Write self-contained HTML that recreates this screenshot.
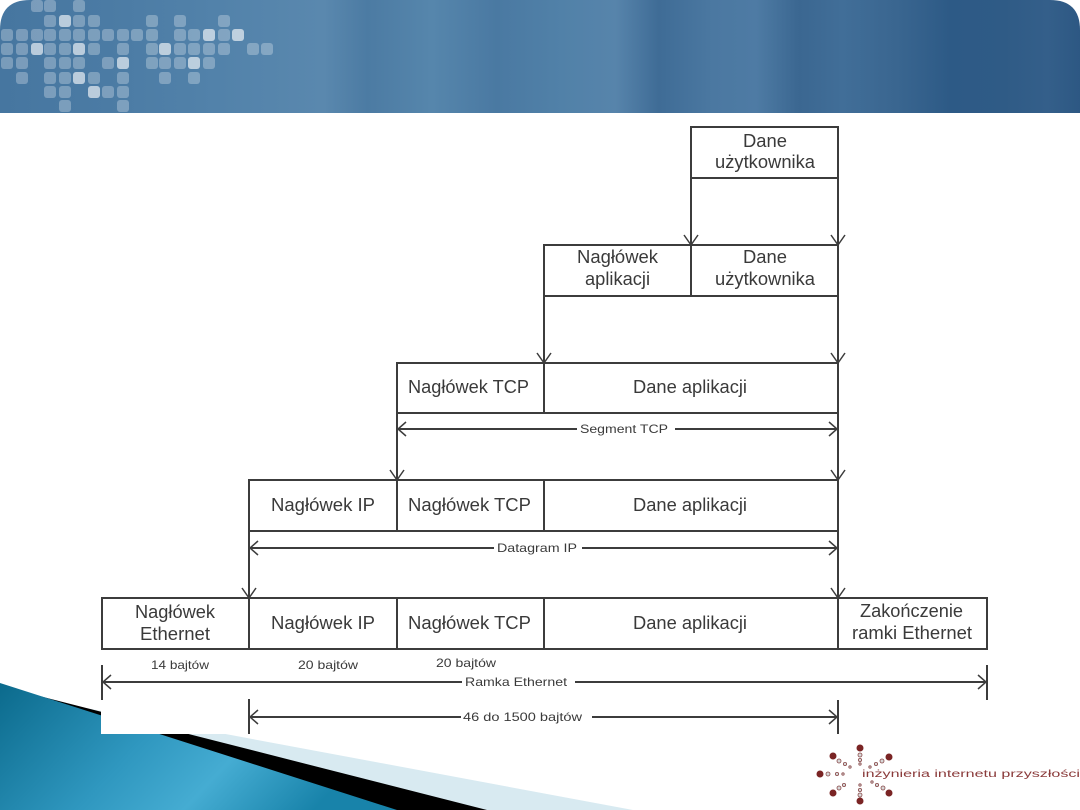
<!DOCTYPE html>
<html><head><meta charset="utf-8"><style>
html,body{margin:0;padding:0;background:#fff;width:1080px;height:810px;overflow:hidden}
svg{display:block}
</style></head><body>
<svg width="1080" height="810" viewBox="0 0 1080 810" xmlns="http://www.w3.org/2000/svg" font-family="'Liberation Sans', Arial, sans-serif">
<defs>
<linearGradient id="hdr" x1="0" y1="0" x2="1" y2="0">
<stop offset="0" stop-color="#4676a0"/>
<stop offset="0.1" stop-color="#4b7ba4"/>
<stop offset="0.2" stop-color="#5282aa"/>
<stop offset="0.3" stop-color="#5a88ae"/>
<stop offset="0.34" stop-color="#4c7ba3"/>
<stop offset="0.4" stop-color="#5686ac"/>
<stop offset="0.46" stop-color="#4a79a2"/>
<stop offset="0.52" stop-color="#5181a8"/>
<stop offset="0.57" stop-color="#5784ab"/>
<stop offset="0.61" stop-color="#3f6c96"/>
<stop offset="0.66" stop-color="#4b78a1"/>
<stop offset="0.7" stop-color="#4e7ba4"/>
<stop offset="0.74" stop-color="#3b6791"/>
<stop offset="0.78" stop-color="#416e98"/>
<stop offset="0.83" stop-color="#3a6690"/>
<stop offset="0.88" stop-color="#2d5a86"/>
<stop offset="0.93" stop-color="#2f5b86"/>
<stop offset="0.97" stop-color="#345f8a"/>
<stop offset="1" stop-color="#2d5883"/>
</linearGradient>
<linearGradient id="blu" x1="0" y1="0" x2="1" y2="0.3">
<stop offset="0" stop-color="#0b6a8c"/>
<stop offset="0.45" stop-color="#2f97bf"/>
<stop offset="0.7" stop-color="#45acd2"/>
<stop offset="1" stop-color="#1883aa"/>
</linearGradient>
<clipPath id="hc"><path d="M30,0 H1050 Q1080,0 1080,30 V113 H0 V30 Q0,0 30,0 Z"/></clipPath>
</defs>

<!-- header -->
<g clip-path="url(#hc)">
<rect x="0" y="0" width="1080" height="113" fill="url(#hdr)"/>
<g fill="#ffffff" fill-opacity="0.28">
<!-- row0 y=6 -->
<rect x="31" y="0" width="12" height="12" rx="3"/><rect x="44" y="0" width="12" height="12" rx="3"/><rect x="73" y="0" width="12" height="12" rx="3"/>
<!-- row1 y=21 -->
<rect x="44" y="15" width="12" height="12" rx="3"/><rect x="73" y="15" width="12" height="12" rx="3"/><rect x="88" y="15" width="12" height="12" rx="3"/><rect x="146" y="15" width="12" height="12" rx="3"/><rect x="174" y="15" width="12" height="12" rx="3"/><rect x="218" y="15" width="12" height="12" rx="3"/>
<!-- row2 y=35 -->
<rect x="1" y="29" width="12" height="12" rx="3"/><rect x="16" y="29" width="12" height="12" rx="3"/><rect x="31" y="29" width="12" height="12" rx="3"/><rect x="44" y="29" width="12" height="12" rx="3"/><rect x="59" y="29" width="12" height="12" rx="3"/><rect x="73" y="29" width="12" height="12" rx="3"/><rect x="88" y="29" width="12" height="12" rx="3"/><rect x="102" y="29" width="12" height="12" rx="3"/><rect x="117" y="29" width="12" height="12" rx="3"/><rect x="131" y="29" width="12" height="12" rx="3"/><rect x="146" y="29" width="12" height="12" rx="3"/><rect x="174" y="29" width="12" height="12" rx="3"/><rect x="188" y="29" width="12" height="12" rx="3"/><rect x="218" y="29" width="12" height="12" rx="3"/>
<!-- row3 y=49 -->
<rect x="1" y="43" width="12" height="12" rx="3"/><rect x="16" y="43" width="12" height="12" rx="3"/><rect x="44" y="43" width="12" height="12" rx="3"/><rect x="59" y="43" width="12" height="12" rx="3"/><rect x="88" y="43" width="12" height="12" rx="3"/><rect x="117" y="43" width="12" height="12" rx="3"/><rect x="146" y="43" width="12" height="12" rx="3"/><rect x="174" y="43" width="12" height="12" rx="3"/><rect x="188" y="43" width="12" height="12" rx="3"/><rect x="203" y="43" width="12" height="12" rx="3"/><rect x="218" y="43" width="12" height="12" rx="3"/><rect x="247" y="43" width="12" height="12" rx="3"/><rect x="261" y="43" width="12" height="12" rx="3"/>
<!-- row4 y=63 -->
<rect x="1" y="57" width="12" height="12" rx="3"/><rect x="16" y="57" width="12" height="12" rx="3"/><rect x="44" y="57" width="12" height="12" rx="3"/><rect x="59" y="57" width="12" height="12" rx="3"/><rect x="73" y="57" width="12" height="12" rx="3"/><rect x="102" y="57" width="12" height="12" rx="3"/><rect x="146" y="57" width="12" height="12" rx="3"/><rect x="159" y="57" width="12" height="12" rx="3"/><rect x="174" y="57" width="12" height="12" rx="3"/><rect x="203" y="57" width="12" height="12" rx="3"/>
<!-- row5 y=78 -->
<rect x="16" y="72" width="12" height="12" rx="3"/><rect x="44" y="72" width="12" height="12" rx="3"/><rect x="59" y="72" width="12" height="12" rx="3"/><rect x="88" y="72" width="12" height="12" rx="3"/><rect x="117" y="72" width="12" height="12" rx="3"/><rect x="159" y="72" width="12" height="12" rx="3"/><rect x="188" y="72" width="12" height="12" rx="3"/>
<!-- row6 y=92 -->
<rect x="44" y="86" width="12" height="12" rx="3"/><rect x="59" y="86" width="12" height="12" rx="3"/><rect x="102" y="86" width="12" height="12" rx="3"/><rect x="117" y="86" width="12" height="12" rx="3"/>
<!-- row7 y=106 -->
<rect x="59" y="100" width="12" height="12" rx="3"/><rect x="117" y="100" width="12" height="12" rx="3"/>
</g>
<g fill="#ffffff" fill-opacity="0.62">
<rect x="59" y="15" width="12" height="12" rx="3"/>
<rect x="203" y="29" width="12" height="12" rx="3"/><rect x="232" y="29" width="12" height="12" rx="3"/>
<rect x="31" y="43" width="12" height="12" rx="3"/><rect x="73" y="43" width="12" height="12" rx="3"/><rect x="159" y="43" width="12" height="12" rx="3"/>
<rect x="117" y="57" width="12" height="12" rx="3"/><rect x="188" y="57" width="12" height="12" rx="3"/>
<rect x="73" y="72" width="12" height="12" rx="3"/>
<rect x="88" y="86" width="12" height="12" rx="3"/>
</g>
</g>

<!-- bottom-left decoration -->
<polygon points="0,692 633,810 0,810" fill="#d8eaf1"/>
<polygon points="0,686 487,810 0,810" fill="#000"/>
<polygon points="0,683 397,810 0,810" fill="url(#blu)"/>

<!-- diagram white image -->
<rect x="101" y="113" width="900" height="621" fill="#fff"/>

<g stroke="#3c3c3c" stroke-width="2" fill="none">
<!-- boxes -->
<rect x="691" y="127" width="147" height="51"/>
<rect x="544" y="245" width="294" height="51"/>
<line x1="691" y1="245" x2="691" y2="296"/>
<rect x="397" y="363" width="441" height="50"/>
<line x1="544" y1="363" x2="544" y2="413"/>
<rect x="249" y="480" width="589" height="51"/>
<line x1="397" y1="480" x2="397" y2="531"/>
<line x1="544" y1="480" x2="544" y2="531"/>
<rect x="102" y="598" width="885" height="51"/>
<line x1="249" y1="598" x2="249" y2="649"/>
<line x1="397" y1="598" x2="397" y2="649"/>
<line x1="544" y1="598" x2="544" y2="649"/>
<line x1="838" y1="598" x2="838" y2="649"/>
<!-- connectors -->
<line x1="691" y1="178" x2="691" y2="245"/>
<line x1="838" y1="178" x2="838" y2="245"/>
<line x1="544" y1="296" x2="544" y2="363"/>
<line x1="838" y1="296" x2="838" y2="363"/>
<line x1="397" y1="413" x2="397" y2="480"/>
<line x1="838" y1="413" x2="838" y2="480"/>
<line x1="249" y1="531" x2="249" y2="598"/>
<line x1="838" y1="531" x2="838" y2="598"/>
<!-- dimension lines -->
<line x1="397" y1="429" x2="577" y2="429"/>
<line x1="675" y1="429" x2="838" y2="429"/>
<line x1="249" y1="548" x2="494" y2="548"/>
<line x1="582" y1="548" x2="838" y2="548"/>
<line x1="102" y1="682" x2="462" y2="682"/>
<line x1="575" y1="682" x2="987" y2="682"/>
<line x1="249" y1="717" x2="461" y2="717"/>
<line x1="592" y1="717" x2="838" y2="717"/>
<!-- ticks -->
<line x1="102" y1="665" x2="102" y2="700"/>
<line x1="987" y1="665" x2="987" y2="700"/>
<line x1="249" y1="699" x2="249" y2="734"/>
<line x1="838" y1="700" x2="838" y2="734"/>
</g>

<!-- arrowheads -->
<g stroke="#3c3c3c" stroke-width="1.5" fill="none">
<polyline points="684,235 691,245 698,235"/>
<polyline points="831,235 838,245 845,235"/>
<polyline points="537,353 544,363 551,353"/>
<polyline points="831,353 838,363 845,353"/>
<polyline points="390,470 397,480 404,470"/>
<polyline points="831,470 838,480 845,470"/>
<polyline points="242,588 249,598 256,588"/>
<polyline points="831,588 838,598 845,588"/>
<polyline points="406,422 398,429 406,436"/>
<polyline points="829,422 837,429 829,436"/>
<polyline points="258,541 250,548 258,555"/>
<polyline points="829,541 837,548 829,555"/>
<polyline points="111,675 103,682 111,689"/>
<polyline points="978,675 986,682 978,689"/>
<polyline points="258,710 250,717 258,724"/>
<polyline points="829,710 837,717 829,724"/>
</g>

<!-- main labels -->
<g fill="#3a3a3a" font-size="18" lengthAdjust="spacingAndGlyphs">
<text x="743" y="147" textLength="44" lengthAdjust="spacingAndGlyphs">Dane</text>
<text x="715" y="168" textLength="100" lengthAdjust="spacingAndGlyphs">użytkownika</text>
<text x="577" y="263" textLength="81" lengthAdjust="spacingAndGlyphs">Nagłówek</text>
<text x="585" y="285" textLength="65" lengthAdjust="spacingAndGlyphs">aplikacji</text>
<text x="743" y="263" textLength="44" lengthAdjust="spacingAndGlyphs">Dane</text>
<text x="715" y="285" textLength="100" lengthAdjust="spacingAndGlyphs">użytkownika</text>
<text x="408" y="393" textLength="121" lengthAdjust="spacingAndGlyphs">Nagłówek TCP</text>
<text x="633" y="393" textLength="114" lengthAdjust="spacingAndGlyphs">Dane aplikacji</text>
<text x="271" y="511" textLength="104" lengthAdjust="spacingAndGlyphs">Nagłówek IP</text>
<text x="408" y="511" textLength="123" lengthAdjust="spacingAndGlyphs">Nagłówek TCP</text>
<text x="633" y="511" textLength="114" lengthAdjust="spacingAndGlyphs">Dane aplikacji</text>
<text x="135" y="618" textLength="80" lengthAdjust="spacingAndGlyphs">Nagłówek</text>
<text x="140" y="640" textLength="70" lengthAdjust="spacingAndGlyphs">Ethernet</text>
<text x="271" y="629" textLength="104" lengthAdjust="spacingAndGlyphs">Nagłówek IP</text>
<text x="408" y="629" textLength="123" lengthAdjust="spacingAndGlyphs">Nagłówek TCP</text>
<text x="633" y="629" textLength="114" lengthAdjust="spacingAndGlyphs">Dane aplikacji</text>
<text x="860" y="617" textLength="103" lengthAdjust="spacingAndGlyphs">Zakończenie</text>
<text x="852" y="639" textLength="120" lengthAdjust="spacingAndGlyphs">ramki Ethernet</text>
</g>

<!-- small labels -->
<g fill="#3a3a3a" font-size="12">
<text x="580" y="433" textLength="88" lengthAdjust="spacingAndGlyphs">Segment TCP</text>
<text x="497" y="552" textLength="80" lengthAdjust="spacingAndGlyphs">Datagram IP</text>
<text x="151" y="669" textLength="58" lengthAdjust="spacingAndGlyphs">14 bajtów</text>
<text x="298" y="669" textLength="60" lengthAdjust="spacingAndGlyphs">20 bajtów</text>
<text x="436" y="667" textLength="60" lengthAdjust="spacingAndGlyphs">20 bajtów</text>
<text x="465" y="686" textLength="102" lengthAdjust="spacingAndGlyphs">Ramka Ethernet</text>
<text x="463" y="721" textLength="119" lengthAdjust="spacingAndGlyphs">46 do 1500 bajtów</text>
</g>

<!-- logo -->
<g>
<g fill="#7a2424">
<circle cx="860" cy="748" r="3.5"/>
<circle cx="820" cy="774" r="3.5"/>
<circle cx="833" cy="756" r="3.5"/>
<circle cx="889" cy="757" r="3.5"/>
<circle cx="833" cy="793" r="3.5"/>
<circle cx="860" cy="801" r="3.5"/>
<circle cx="889" cy="793" r="3.5"/>
</g>
<g fill="#d8d8d8" stroke="#8a4a4a" stroke-width="0.8">
<circle cx="860" cy="755" r="2"/><circle cx="860" cy="760" r="1.6"/><circle cx="860" cy="764" r="1.2"/>
<circle cx="828" cy="774" r="2"/><circle cx="837" cy="774" r="1.6"/><circle cx="843" cy="774" r="1.2"/>
<circle cx="839" cy="761" r="2"/><circle cx="845" cy="764" r="1.6"/><circle cx="850" cy="767" r="1.2"/>
<circle cx="882" cy="761" r="2"/><circle cx="876" cy="764" r="1.6"/><circle cx="870" cy="767" r="1.2"/>
<circle cx="839" cy="788" r="2"/><circle cx="844" cy="785" r="1.6"/>
<circle cx="860" cy="795" r="2"/><circle cx="860" cy="790" r="1.6"/><circle cx="860" cy="785" r="1.2"/>
<circle cx="883" cy="788" r="2"/><circle cx="877" cy="785" r="1.6"/><circle cx="872" cy="782" r="1.2"/>
</g>
<text x="862" y="777" font-size="10" fill="#8a3a3a" textLength="218" lengthAdjust="spacingAndGlyphs">inżynieria internetu przyszłości</text>
</g>
</svg>
</body></html>
